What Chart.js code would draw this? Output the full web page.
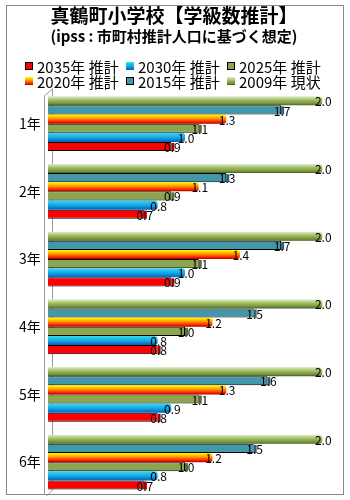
<!DOCTYPE html>
<html>
<head>
<meta charset="utf-8">
<script src="https://cdn.jsdelivr.net/npm/chart.js@4"></script>
<style>
  html, body { margin: 0; padding: 0; background: #fff; }
  #wrap { width: 350px; height: 500px; position: relative; }
</style>
</head>
<body>
<div id="wrap"><canvas id="chart" width="350" height="500"></canvas></div>
<script>
// データ
const grades = ['1年', '2年', '3年', '4年', '5年', '6年'];
const seriesNames = ['2009年 現状', '2015年 推計', '2020年 推計', '2025年 推計', '2030年 推計', '2035年 推計'];
const y2009 = [2.0, 2.0, 2.0, 2.0, 2.0, 2.0];
const y2015 = [1.7, 1.3, 1.7, 1.5, 1.6, 1.5];
const y2020 = [1.3, 1.1, 1.4, 1.2, 1.3, 1.2];
const y2025 = [1.1, 0.9, 1.1, 1.0, 1.1, 1.0];
const y2030 = [1.0, 0.8, 1.0, 0.8, 0.9, 0.8];
const y2035 = [0.9, 0.7, 0.9, 0.8, 0.8, 0.7];

const FONT = "'Noto Sans CJK JP', 'Noto Sans', sans-serif";

function makeGradient(ctx, stops, top, h) {
    const g = ctx.createLinearGradient(0, top, 0, top + h);
    stops.forEach(s => g.addColorStop(s[0], s[1]));
    return g;
}

// 縦グラデーション（各バーごと）
const gradientPlugin = {
    id: 'barGradient',
    beforeDatasetsDraw(chart) {
        const ctx = chart.ctx;
        chart.data.datasets.forEach((ds, i) => {
            if (!ds.gradStops) return;
            chart.getDatasetMeta(i).data.forEach(el => {
                el.options.backgroundColor = makeGradient(ctx, ds.gradStops, el.y - el.height / 2, el.height);
            });
        });
    }
};

// 外枠と壁
const framePlugin = {
    id: 'frame',
    beforeDraw(chart) {
        const ctx = chart.ctx;
        const a = chart.chartArea;
        ctx.save();
        ctx.strokeStyle = '#868686';
        ctx.lineWidth = 1;
        ctx.strokeRect(6.5, 5.5, 337, 489);
        ctx.strokeStyle = '#9a9a9a';
        ctx.beginPath();
        const l = Math.round(a.left) - 3.5;
        ctx.moveTo(l, a.top + 6);
        ctx.lineTo(l, 494);
        ctx.moveTo(l, a.top + 6);
        ctx.lineTo(l + 8, a.top - 1);
        ctx.lineTo(l + 8, a.bottom - 6);
        ctx.lineTo(l + 2, a.bottom);
        ctx.stroke();
        ctx.restore();
    }
};

// 3Dの端面と値ラベル
const valueLabels = {
    id: 'valueLabels',
    afterDatasetsDraw(chart) {
        const ctx = chart.ctx;
        ctx.save();
        chart.data.datasets.forEach((ds, i) => {
            if (!ds.sideColor) return;
            chart.getDatasetMeta(i).data.forEach(el => {
                ctx.fillStyle = ds.sideColor;
                ctx.fillRect(el.x, el.y - el.height / 2 + 1, 3, el.height - 1);
            });
        });
        ctx.font = '12px ' + FONT;
        ctx.fillStyle = '#000';
        ctx.textAlign = 'center';
        ctx.textBaseline = 'middle';
        chart.data.datasets.forEach((ds, i) => {
            chart.getDatasetMeta(i).data.forEach((el, j) => {
                ctx.fillText(ds.data[j].toFixed(1), el.x + 1, el.y + 1);
            });
        });
        ctx.restore();
    }
};

// 凡例（3列×2行）
const legendPlugin = {
    id: 'gridLegend',
    afterDraw(chart) {
        const ctx = chart.ctx;
        const items = chart.data.datasets.slice().reverse();
        const stride = 101, rowH = 15, box = 8;
        const x0 = chart.width / 2 - 150;
        const y0 = 66;
        ctx.save();
        ctx.font = '15px ' + FONT;
        ctx.textBaseline = 'middle';
        ctx.textAlign = 'left';
        items.forEach((ds, k) => {
            const x = x0 + (k % 3) * stride;
            const y = y0 + Math.floor(k / 3) * rowH;
            const top = Math.round(y - box / 2);
            ctx.fillStyle = ds.gradStops ? makeGradient(ctx, ds.gradStops, top, box) : ds.legendColor;
            ctx.fillRect(x, top, box, box);
            if (ds.borderWidth) {
                ctx.strokeStyle = '#000';
                ctx.lineWidth = 1;
                ctx.strokeRect(x + 0.5, top + 0.5, box - 1, box - 1);
            }
            ctx.fillStyle = '#000';
            ctx.fillText(ds.label, x + 12, y + 1);
        });
        ctx.restore();
    }
};

new Chart(document.getElementById('chart'), {
    type: 'bar',
    data: {
        labels: grades,
        datasets: [
            {
                label: seriesNames[0], data: y2009,
                backgroundColor: () => '#9bbb59', borderWidth: 0,
                gradStops: [[0, '#e4ecd2'], [0.45, '#9bbb59'], [0.85, '#6f8a3a'], [1, '#3f5220']],
                borderRadius: { topRight: 3, bottomRight: 3 }, borderSkipped: 'start'
            },
            {
                label: seriesNames[1], data: y2015,
                backgroundColor: '#4397ab', legendColor: '#4397ab', sideColor: '#2a6473',
                borderColor: '#000', borderWidth: 1
            },
            {
                label: seriesNames[2], data: y2020,
                backgroundColor: () => '#ff9900', borderWidth: 0,
                gradStops: [[0, '#ffff00'], [0.4, '#ffa000'], [0.8, '#ff2000'], [1, '#a00000']],
                borderRadius: { topRight: 3, bottomRight: 3 }, borderSkipped: 'start'
            },
            {
                label: seriesNames[3], data: y2025,
                backgroundColor: '#8ca650', legendColor: '#8ca650', sideColor: '#5b6e30',
                borderColor: '#000', borderWidth: 1
            },
            {
                label: seriesNames[4], data: y2030,
                backgroundColor: () => '#1fa6e0', borderWidth: 0,
                gradStops: [[0, '#3ad8f2'], [0.5, '#18a8e2'], [1, '#0060c0']],
                borderRadius: { topRight: 3, bottomRight: 3 }, borderSkipped: 'start'
            },
            {
                label: seriesNames[5], data: y2035,
                backgroundColor: '#ff0000', legendColor: '#ff0000', sideColor: '#a00000',
                borderColor: '#000', borderWidth: 1
            }
        ]
    },
    options: {
        indexAxis: 'y',
        responsive: false,
        animation: false,
        datasets: {
            bar: { categoryPercentage: 0.81, barPercentage: 1.0 }
        },
        layout: {
            padding: { left: 12, right: 14, top: 0, bottom: 4 }
        },
        scales: {
            x: {
                display: false,
                min: 0,
                max: 2.1
            },
            y: {
                grid: { display: false, drawTicks: false },
                border: { display: false },
                ticks: {
                    color: '#000',
                    padding: 7,
                    font: { family: FONT, size: 14 }
                },
                afterFit(scale) {
                    scale.paddingTop = 0;
                    scale.paddingBottom = 0;
                }
            }
        },
        plugins: {
            title: {
                display: true,
                text: '真鶴町小学校【学級数推計】',
                color: '#000',
                font: { family: FONT, size: 19, weight: 'bold' },
                padding: { top: 4, bottom: 0 }
            },
            subtitle: {
                display: true,
                text: '(ipss : 市町村推計人口に基づく想定)',
                color: '#000',
                font: { family: FONT, size: 15, weight: 'bold' },
                padding: { top: 0, bottom: 45 }
            },
            legend: { display: false },
            tooltip: { enabled: false }
        }
    },
    plugins: [gradientPlugin, framePlugin, valueLabels, legendPlugin]
});
</script>
</body>
</html>
